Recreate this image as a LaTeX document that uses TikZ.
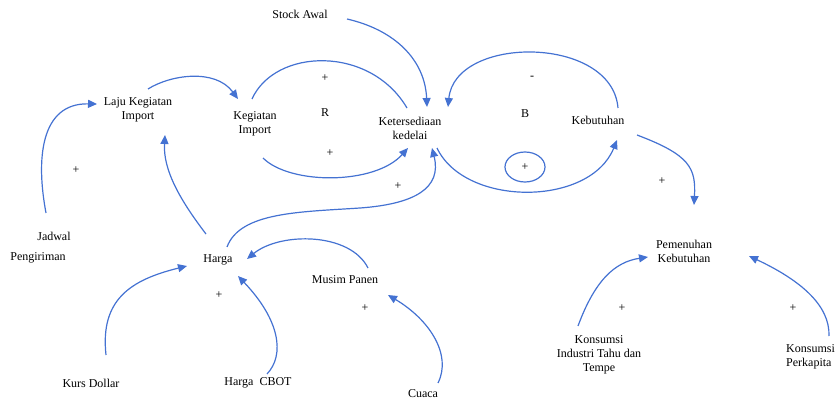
\documentclass[tikz,border=0pt]{standalone}
\usepackage{fontspec}
\setmainfont{Liberation Serif}
\usetikzlibrary{arrows.meta}
\definecolor{lnk}{RGB}{68,114,210}
\tikzset{
  lbl/.style={inner sep=0pt, align=center, font=\fontsize{12}{14}\selectfont},
  sgn/.style={inner sep=0pt, font=\fontsize{12}{14}\selectfont},
  lk/.style={draw=lnk, line width=1.2pt, -{Triangle[length=9pt,width=8pt]}},
  lkn/.style={draw=lnk, line width=1.2pt}
}
\begin{document}
\begin{tikzpicture}[x=1pt,y=-1pt]
\useasboundingbox (0,0) rectangle (836,401);
% nodes
\node[lbl] (stock) at (300,14) {Stock Awal};
\node[lbl] (laju) at (138,110) {Laju Kegiatan\\Import};
\node[lbl] (keg) at (255,124) {Kegiatan\\Import};
\node[lbl] (ket) at (410,128) {Ketersediaan\\kedelai};
\node[lbl] (keb) at (598,120) {Kebutuhan};
\node[lbl] (pem) at (684,251) {Pemenuhan\\Kebutuhan};
\node[lbl] (harga) at (218,260) {Harga};
\node[lbl] (musim) at (345,280) {Musim Panen};
\node[lbl] (jadwal) at (54,236) {Jadwal};
\node[lbl] (peng) at (38,258) {Pengiriman};
\node[lbl] (kurs) at (91,383) {Kurs Dollar};
\node[lbl] (cbot) at (258,383) {Harga\ \ CBOT};
\node[lbl] (cuaca) at (423,394) {Cuaca};
\node[lbl] (kit) at (599,355) {Konsumsi\\Industri Tahu dan\\Tempe};
\node[lbl, align=left, anchor=west] (kp) at (786,357) {Konsumsi\\Perkapita};
% loop labels and signs
\node[sgn] (R) at (325,113) {R};
\node[sgn] (B) at (525,114) {B};
\node[sgn] (m1) at (532,78) {-};
\node[sgn] (p1) at (325,78) {+};
\node[sgn] (p2) at (330,153) {+};
\node[sgn] (p3) at (398,186) {+};
\node[sgn] (p4) at (76,170) {+};
\node[sgn] (p5) at (219,295) {+};
\node[sgn] (p6) at (365,308) {+};
\node[sgn] (p7) at (662,181) {+};
\node[sgn] (p8) at (622,308) {+};
\node[sgn] (p9) at (793,308) {+};
\node[sgn] (p10) at (525,167) {+};
\draw[lkn] (p10) ellipse [x radius=20, y radius=15];
% connectors
\draw[lk] ([shift={(47,5)}]stock.center) .. controls (395,30) and (425,60) .. ([shift={(17,-21)}]ket.center);
\draw[lk] ([shift={(10,-21)}]laju.center) .. controls (170,75) and (215,68) .. ([shift={(-17,-25)}]keg.center);
\draw[lk] ([shift={(-8,-23)}]jadwal.center) .. controls (36,160) and (40,103) .. ([shift={(-41,-6)}]laju.center);
\draw[lk] ([shift={(-12,-26)}]harga.center) .. controls (180,200) and (163,170) .. ([shift={(27,25)}]laju.center);
\draw[lkn] ([shift={(-3,-25)}]keg.center) .. controls (275,48) and (370,45) .. ([shift={(-3,-20)}]ket.center);
\draw[lk] ([shift={(8,34)}]keg.center) .. controls (290,185) and (375,185) .. ([shift={(-2,20)}]ket.center);
\draw[lk] ([shift={(9,-13)}]harga.center) .. controls (240,212) and (300,212) .. (360,208) .. controls (415,204) and (442,188) .. ([shift={(22,20)}]ket.center);
\draw[lk] ([shift={(20,-12)}]keb.center) .. controls (612,35) and (455,35) .. ([shift={(38,-21)}]ket.center);
\draw[lk] ([shift={(27,20)}]ket.center) .. controls (465,207) and (590,207) .. ([shift={(19,20)}]keb.center);
\draw[lk] ([shift={(39,15)}]keb.center) .. controls (690,155) and (696,168) .. ([shift={(10,-46)}]pem.center);
\draw[lk] ([shift={(23,-12)}]musim.center) .. controls (350,232) and (280,232) .. ([shift={(29,-1)}]harga.center);
\draw[lk] ([shift={(15,-28)}]kurs.center) .. controls (100,300) and (130,280) .. ([shift={(-31,6)}]harga.center);
\draw[lk] ([shift={(9,-9)}]cbot.center) .. controls (285,355) and (280,320) .. ([shift={(20,16)}]harga.center);
\draw[lk] ([shift={(15,-11)}]cuaca.center) .. controls (452,355) and (430,320) .. ([shift={(43,15)}]musim.center);
\draw[lk] ([shift={(-21,-29)}]kit.center) .. controls (595,280) and (615,262) .. ([shift={(-36,6)}]pem.center);
\draw[lk] ([shift={(43,-21)}]kp.west) .. controls (830,305) and (800,280) .. ([shift={(65,5)}]pem.center);
\end{tikzpicture}
\end{document}
